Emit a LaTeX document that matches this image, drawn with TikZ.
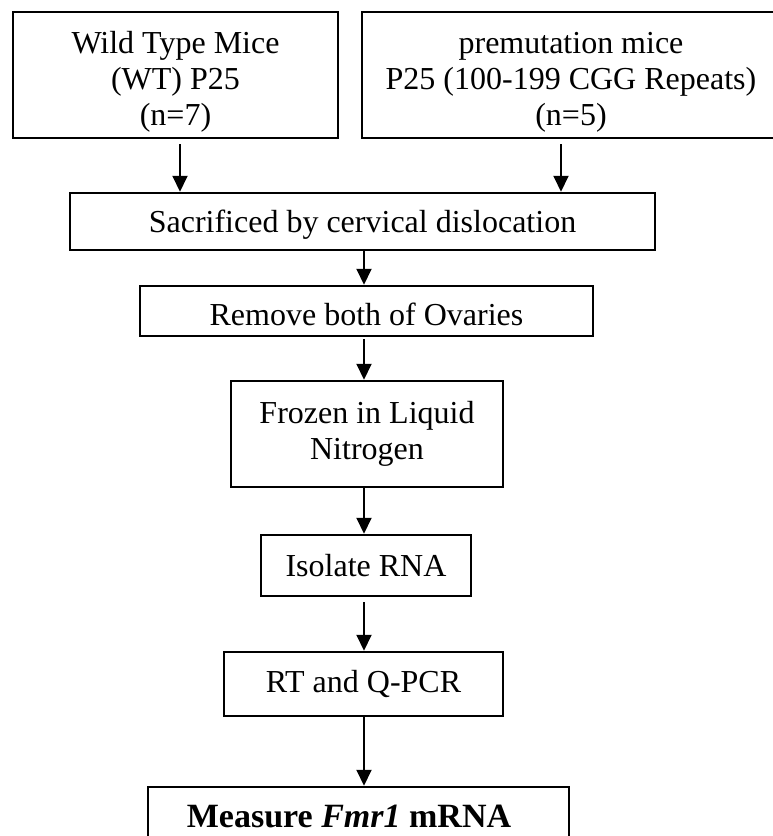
\documentclass[tikz,border=0pt]{standalone}
\usepackage{fontspec}
\setmainfont{Liberation Serif}
\usetikzlibrary{positioning, calc, arrows.meta}

\begin{document}
\begin{tikzpicture}[x=1pt, y=-1pt,
    box/.style={draw, line width=2.5pt, align=center, inner sep=0pt,
        font=\fontsize{32pt}{36pt}\selectfont},
    arr/.style={line width=2pt, -{Triangle[length=16pt, width=15pt]}}]
    \useasboundingbox (0,0) rectangle (773,836);

    % Spine of the flow chart
    \coordinate (spine) at (364,0);

    % 1. Two groups of mice (top row)
    \node[box, minimum width=325pt, minimum height=126pt, text height=107pt] (wt) at (175.5,75)
        {Wild Type Mice\\(WT) P25\\(n=7)};
    \node[box, minimum width=418pt, minimum height=126pt, text height=107pt] (pm) at (571,75)
        {premutation mice\\P25 (100-199 CGG Repeats)\\(n=5)};

    % 2. Processing steps
    \node[box, minimum width=585pt, minimum height=57pt, text height=29pt] (sac) at (362.5,221.5)
        {Sacrificed by cervical dislocation};
    \node[box, minimum width=453pt, minimum height=50pt, text height=30pt] (rem) at (366.5,311)
        {Remove both of Ovaries};
    \node[box, minimum width=272pt, minimum height=106pt] (frz) at (367,434)
        {Frozen in Liquid\\Nitrogen};
    \node[box, minimum width=210pt, minimum height=61pt] (iso) at (366,565.5)
        {Isolate RNA};
    \node[box, minimum width=279pt, minimum height=64pt] (rt) at (363.5,684)
        {RT and Q-PCR};

    % 3. Result (cut off at the lower edge)
    \node[box, minimum width=421pt, minimum height=58pt, font=\fontsize{34pt}{38pt}\selectfont\bfseries] (msr) at (358.5,816)
        {Measure \textit{Fmr1} mRNA\hspace{19pt}};

    % 4. Arrows
    \coordinate (wtout) at ([xshift=4.5pt]wt.south);
    \coordinate (pmout) at ([xshift=-10pt]pm.south);
    \draw[arr] ([yshift=-5pt]wtout) -- (wtout |- sac.north);
    \draw[arr] ([yshift=-5pt]pmout) -- (pmout |- sac.north);
    \draw[arr] (sac.south -| spine) -- (rem.north -| spine);
    \draw[arr] ([yshift=-2pt]rem.south -| spine) -- (frz.north -| spine);
    \draw[arr] (frz.south -| spine) -- (iso.north -| spine);
    \draw[arr] ([yshift=-5pt]iso.south -| spine) -- (rt.north -| spine);
    \draw[arr] (rt.south -| spine) -- (msr.north -| spine);

\end{tikzpicture}
\end{document}
